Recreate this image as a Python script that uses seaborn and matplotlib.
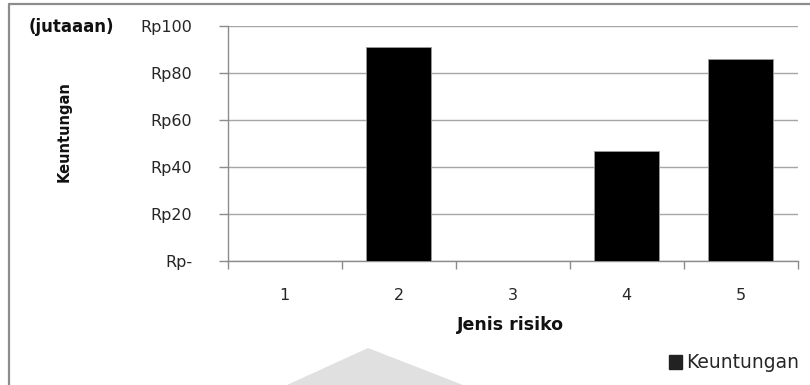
import matplotlib
matplotlib.use("Agg")
import matplotlib.pyplot as plt
import seaborn as sns
import pandas as pd
from matplotlib.lines import Line2D
from matplotlib.patches import Polygon, Patch

# Profit per risk type (in millions of rupiah)
jenis_risiko = ["1", "2", "3", "4", "5"]
keuntungan = [0, 91, 0, 47, 86]
y_ticks = [0, 20, 40, 60, 80, 100]
y_tick_labels = ["Rp-", "Rp20", "Rp40", "Rp60", "Rp80", "Rp100"]

sns.set_theme(style="white")
plt.rcParams["font.family"] = ["DejaVu Sans"]

W, H = 810, 385
fig = plt.figure(figsize=(W / 100, H / 100), dpi=100)
fig.patch.set_facecolor("white")

def fx(px):
    return px / W

def fy(py):
    return 1 - py / H

ax = fig.add_axes([fx(227.5), fy(261.3), fx(797.5) - fx(227.5), fy(26.3) - fy(261.3)])

df = pd.DataFrame({"Jenis risiko": jenis_risiko, "Keuntungan": keuntungan})
sns.barplot(data=df, x="Jenis risiko", y="Keuntungan", color="black",
            width=0.57, edgecolor="#9a9a9a", linewidth=0.6, saturation=1,
            ax=ax, zorder=3)

ax.set_xlim(-0.5, len(jenis_risiko) - 0.5)
ax.set_ylim(0, 100)
ax.set_yticks(y_ticks)
ax.set_yticklabels(y_tick_labels)
ax.yaxis.grid(True, color="#a6a6a6", linewidth=1.0, zorder=0)
ax.xaxis.grid(False)

for side in ["top", "right"]:
    ax.spines[side].set_visible(False)
for side in ["left", "bottom"]:
    ax.spines[side].set_color("#8c8c8c")
    ax.spines[side].set_linewidth(1.0)

# Tick marks on category boundaries, labels at category centres
ax.set_xticks([i - 0.5 for i in range(len(jenis_risiko) + 1)], minor=True)
ax.tick_params(axis="x", which="minor", length=6, width=1.0, color="#8c8c8c",
               direction="out", bottom=True)
ax.tick_params(axis="x", which="major", length=0, pad=19, labelsize=11.5,
               labelcolor="#262626")
ax.tick_params(axis="y", which="major", length=6.5, width=1.0, color="#8c8c8c",
               direction="out", left=True, pad=19, labelsize=11.5,
               labelcolor="#262626")

ax.set_xlabel("")
ax.set_ylabel("")

fig.text(fx(510), fy(325), "Jenis risiko", ha="center", va="center",
         fontsize=12.5, fontweight="bold", color="#111111")
fig.text(fx(64), fy(132), "Keuntungan", ha="center", va="center",
         rotation=90, fontsize=10.5, fontweight="bold", color="#111111")
fig.text(fx(71), fy(27), "(jutaaan)", ha="center", va="center",
         fontsize=12, fontweight="bold", color="#111111")

# Legend
fig.legend(handles=[Patch(facecolor="#222222", edgecolor="#222222", label="Keuntungan")],
           loc="center right", bbox_to_anchor=(fx(808), fy(363)), frameon=False,
           fontsize=13.5, handlelength=0.7, handleheight=0.7, handletextpad=0.2,
           borderpad=0, labelcolor="#262626")

# Outer chart frame
fig.add_artist(Line2D([fx(9), fx(9)], [fy(3.5), 0], transform=fig.transFigure,
                      color="#8c8c8c", linewidth=1.6))
fig.add_artist(Line2D([fx(9), 1], [fy(3.5), fy(3.5)], transform=fig.transFigure,
                      color="#8c8c8c", linewidth=1.6))

# Faint emblem at the bottom of the page
fig.add_artist(Polygon([(fx(287), 0), (fx(368), fy(348)), (fx(463), 0)],
                       closed=True, transform=fig.transFigure,
                       facecolor="#e0e0e0", edgecolor="none", zorder=0))

fig.savefig("out.png", dpi=100)
